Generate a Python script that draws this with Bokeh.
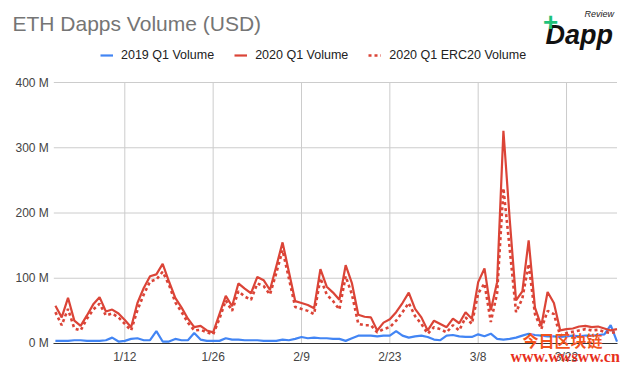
import pandas as pd
from bokeh.plotting import figure
from bokeh.models import (FixedTicker, PrintfTickFormatter, Legend, LegendItem,
                          Label, Range1d)
from bokeh.embed import file_html
from bokeh.resources import INLINE

# ---------------- data (USD millions, daily) ----------------
start_date = "2020-01-01"
n_days = 90

vol_2019 = [4, 4, 4, 5, 5, 4, 4, 4, 5, 9,
            3, 4, 7, 8, 5, 5, 19, 3, 3, 7,
            5, 5, 16, 6, 4, 4, 4, 8, 6, 6,
            5, 5, 5, 4, 4, 4, 6, 5, 7, 10,
            8, 9, 8, 8, 7, 7, 4, 8, 12, 12,
            12, 11, 12, 12, 19, 12, 9, 11, 12, 10,
            6, 5, 12, 13, 11, 10, 10, 14, 11, 15,
            7, 6, 7, 9, 12, 15, 13, 12, 11, 11,
            10, 11, 12, 11, 12, 12, 13, 14, 28, 3]

vol_2020 = [58, 40, 70, 35, 27, 43, 60, 71, 49, 52,
            46, 36, 25, 62, 85, 103, 106, 122, 95, 70,
            55, 38, 25, 27, 20, 17, 45, 73, 57, 92,
            84, 77, 102, 97, 82, 118, 155, 110, 65, 62,
            59, 54, 114, 87, 78, 67, 120, 92, 44, 41,
            40, 20, 32, 37, 48, 62, 78, 53, 40, 20,
            35, 30, 25, 38, 31, 48, 38, 94, 115, 51,
            94, 326, 190, 66, 80, 158, 55, 27, 79, 62,
            20, 22, 23, 26, 27, 25, 26, 23, 20, 22]

vol_2020_erc20 = [48, 28, 53, 23, 20, 38, 52, 61, 43, 46,
                  40, 30, 20, 51, 75, 95, 98, 110, 90, 63,
                  48, 32, 20, 21, 17, 14, 38, 66, 50, 80,
                  72, 67, 92, 88, 75, 108, 143, 100, 56, 53,
                  50, 45, 100, 75, 65, 52, 103, 75, 30, 28,
                  28, 17, 22, 25, 35, 48, 62, 42, 30, 15,
                  25, 22, 17, 28, 20, 40, 30, 77, 92, 33,
                  77, 238, 145, 48, 69, 122, 45, 22, 50, 45,
                  12, 16, 18, 20, 22, 20, 21, 18, 16, 18]

x_tick_labels = ["1/12", "1/26", "2/9", "2/23", "3/8", "3/22"]
y_ticks = [0, 100, 200, 300, 400]
series_names = ["2019 Q1 Volume", "2020 Q1 Volume", "2020 Q1 ERC20 Volume"]

# ---------------- derived ----------------
dates = pd.date_range(start_date, periods=n_days)
day = list(range(n_days))
day_labels = [f"{d.month}/{d.day}" for d in dates]
tick_pos = [day_labels.index(t) for t in x_tick_labels]

BLUE = "#4285F4"
RED = "#DB4437"
GRID = "#cccccc"
FONT = "Liberation Sans"

W, H = 623, 367
# frame covers the whole canvas; axes are pinned at fixed data locations
p = figure(width=W, height=H, output_backend="svg", toolbar_location=None,
           title_location=None,
           x_range=Range1d(-8.70, 90.03), y_range=Range1d(-36.8, 525.7),
           min_border=0, min_border_left=0, min_border_right=0,
           min_border_top=0, min_border_bottom=0)
p.outline_line_color = None
p.background_fill_color = "white"
p.border_fill_color = "white"
p.xgrid.visible = False
p.ygrid.visible = False

x_lo, x_hi = -0.25, n_days - 1
# grid lines
p.segment(x0=tick_pos, y0=[y_ticks[0]] * len(tick_pos),
          x1=tick_pos, y1=[y_ticks[-1]] * len(tick_pos),
          line_color=GRID, line_width=1)
p.segment(x0=[x_lo] * len(y_ticks), y0=y_ticks,
          x1=[x_hi] * len(y_ticks), y1=y_ticks,
          line_color=GRID, line_width=1)

r19 = p.line(day, vol_2019, line_color=BLUE, line_width=2.2)
rerc = p.line(day, vol_2020_erc20, line_color=RED, line_width=2.6,
              line_dash="3 3", line_cap="butt")
r20 = p.line(day, vol_2020, line_color=RED, line_width=2.2)

# axes
xa = p.xaxis[0]
xa.fixed_location = 0
xa.bounds = (x_lo, x_hi)
xa.ticker = FixedTicker(ticks=tick_pos)
xa.major_label_overrides = {pos: lab for pos, lab in zip(tick_pos, x_tick_labels)}
xa.axis_line_color = "#333333"
xa.major_tick_line_color = None
xa.minor_tick_line_color = None
xa.major_tick_out = 0
xa.major_tick_in = 0
xa.major_label_text_font_size = "12px"
xa.major_label_text_color = "#444444"
xa.major_label_text_font = FONT
xa.major_label_standoff = 7

ya = p.yaxis[0]
ya.fixed_location = x_lo
ya.bounds = (y_ticks[0], y_ticks[-1])
ya.ticker = FixedTicker(ticks=y_ticks)
ya.formatter = PrintfTickFormatter(format="%d M")
ya.axis_line_color = None
ya.major_tick_line_color = None
ya.minor_tick_line_color = None
ya.major_tick_out = 0
ya.major_tick_in = 0
ya.major_label_text_font_size = "12px"
ya.major_label_text_color = "#444444"
ya.major_label_text_font = FONT
ya.major_label_standoff = 5

# legend (screen coords: x from left, y from bottom)
legend = Legend(items=[LegendItem(label=series_names[0], renderers=[r19]),
                       LegendItem(label=series_names[1], renderers=[r20]),
                       LegendItem(label=series_names[2], renderers=[rerc])],
                orientation="horizontal", location=(100, H - 62),
                padding=0, margin=0, spacing=20, label_standoff=8,
                glyph_width=13, glyph_height=14, label_height=14,
                label_text_font_size="12.5px", label_text_color="#222222",
                label_text_font=FONT, border_line_color=None,
                background_fill_alpha=0)
p.add_layout(legend)

# title
p.add_layout(Label(x=12, y=H - 23, x_units="screen", y_units="screen",
                   text="ETH Dapps Volume (USD)", text_font_size="21px",
                   text_color="#757575", text_font=FONT,
                   text_baseline="middle"))

# logo
p.add_layout(Label(x=545, y=H - 34, x_units="screen", y_units="screen",
                   text="Dapp", text_font_size="27px",
                   text_font_style="bold italic", text_color="#111111",
                   text_font=FONT, text_baseline="middle"))
p.add_layout(Label(x=550, y=H - 21, x_units="screen", y_units="screen",
                   text="+", text_font_size="26px", text_font_style="bold",
                   text_color="#1ec27a", text_font=FONT,
                   text_align="center", text_baseline="middle"))
p.add_layout(Label(x=584, y=H - 13, x_units="screen", y_units="screen",
                   text="Review", text_font_size="9px", text_font_style="italic",
                   text_color="#222222", text_font=FONT,
                   text_baseline="middle"))

# watermark
p.add_layout(Label(x=522, y=H - 339, x_units="screen", y_units="screen",
                   text="今日区块链", text_font_size="16px",
                   text_font_style="bold", text_color="#f2531c",
                   text_font="Noto Sans CJK SC", text_baseline="middle"))
p.add_layout(Label(x=510, y=H - 356, x_units="screen", y_units="screen",
                   text="www.wwsww.cn", text_font_size="16px",
                   text_font_style="bold", text_color="#e8301c",
                   text_font="Liberation Serif", text_baseline="middle"))

open("out.html", "w").write(file_html(p, INLINE))
